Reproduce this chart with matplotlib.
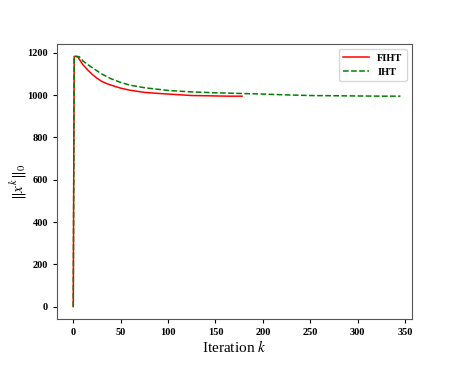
import matplotlib
matplotlib.use("Agg")
from matplotlib import pyplot as plt

# Valores
fiht_k = [0, 1, 3, 5, 7, 10, 15, 20, 25, 30, 35, 40, 50, 60, 75, 90, 100, 115, 125, 140, 150, 165, 178]
fiht_nnz = [0, 1183, 1183, 1180, 1165, 1145, 1120, 1098, 1080, 1065, 1055, 1047, 1033, 1023, 1013, 1008, 1005, 1001, 998, 997, 996, 995, 995]

iht_k = [0, 1, 3, 6, 8, 10, 15, 20, 25, 30, 40, 50, 60, 75, 100, 125, 150, 175, 200, 225, 250, 275, 300, 325, 345]
iht_nnz = [0, 1183, 1183, 1182, 1175, 1162, 1145, 1130, 1115, 1100, 1077, 1060, 1047, 1035, 1022, 1015, 1011, 1008, 1005, 1001, 998, 997, 996, 995, 995]

plt.rcParams["font.family"] = ["Liberation Serif", "DejaVu Serif"]
plt.rcParams["mathtext.fontset"] = "stix"

fig = plt.figure(dpi=100, figsize=(4.57, 3.66))
ax = fig.add_axes([0.125, 0.128, 0.776, 0.752])
ax.plot(fiht_k, fiht_nnz, c="red", lw=1.1, label="FIHT")
ax.plot(iht_k, iht_nnz, c="green", ls="--", lw=1.1, label="IHT")
ax.set_xlim(-17, 357)
ax.set_ylim(-59, 1242)
ax.set_xticks([0, 50, 100, 150, 200, 250, 300, 350])
ax.set_yticks([0, 200, 400, 600, 800, 1000, 1200])

# Formatar o grafico
ax.set_xlabel("Iteration $k$", fontsize=11, labelpad=1)
ax.set_ylabel(r"$\|x^k\|_0$", fontsize=11)
ax.yaxis.set_label_coords(-0.082, 0.5)
ax.tick_params(axis="both", which="major", labelsize=7.5, length=3)
for lbl in ax.get_xticklabels() + ax.get_yticklabels():
    lbl.set_fontweight("bold")
for s in ax.spines.values():
    s.set_color("#555555")
leg = ax.legend(loc="upper right", prop={"weight": "bold", "size": 7.5}, handlelength=2.5)
plt.savefig("out.png", dpi=100)
